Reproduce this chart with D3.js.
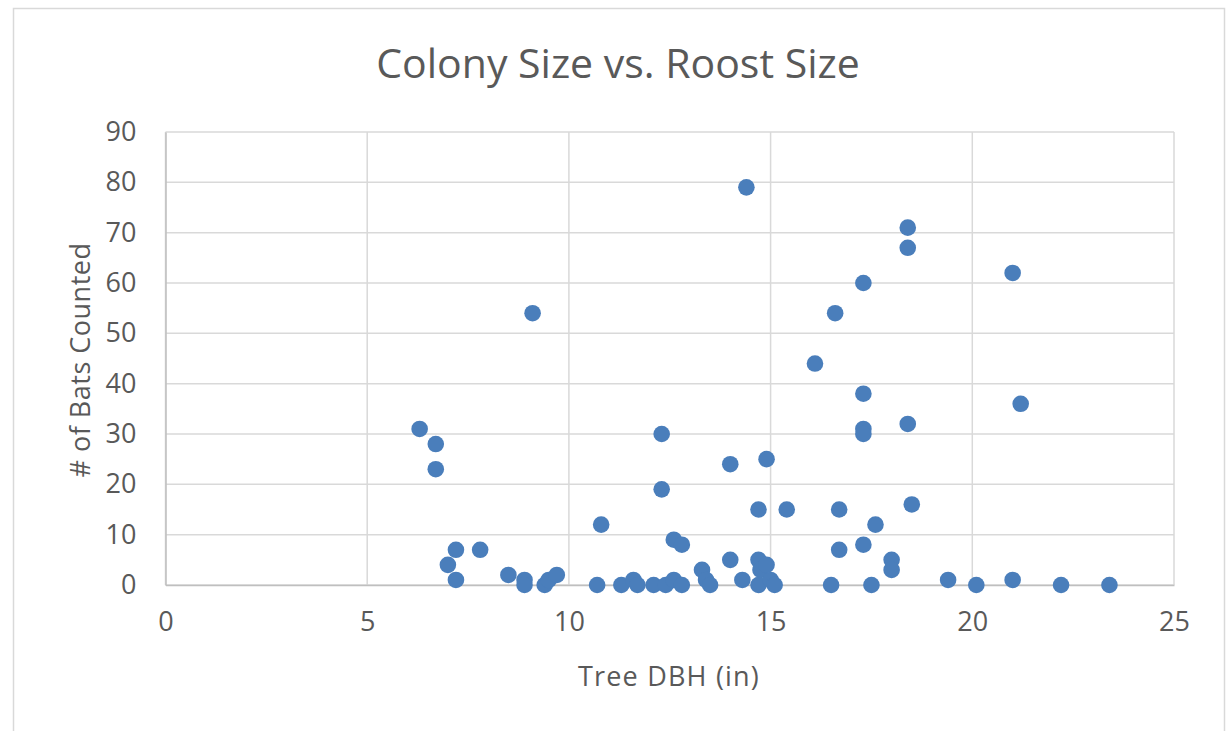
<!DOCTYPE html>
<html><head><meta charset="utf-8">
<script src="https://cdn.jsdelivr.net/npm/d3@7"></script>
<style>body{margin:0;background:#fff}svg{display:block}</style>
</head><body>
<script>
const treeDBH = [6.3,6.7,6.7,7.0,7.2,7.2,7.8,8.5,8.9,8.9,9.1,9.4,9.5,9.7,10.7,10.8,11.3,11.6,11.7,12.1,12.3,12.3,12.4,12.6,12.6,12.8,12.8,13.3,13.4,13.5,14.0,14.0,14.3,14.4,14.7,14.7,14.75,14.7,14.9,14.9,15.0,15.1,15.4,16.1,16.5,16.6,16.7,16.7,17.3,17.3,17.3,17.3,17.3,17.5,17.6,18.0,18.0,18.4,18.4,18.4,18.5,19.4,20.1,21.0,21.0,21.2,22.2,23.4];
const batsCounted = [31,28,23,4,7,1,7,2,1,0,54,0,1,2,0,12,0,1,0,0,30,19,0,9,1,8,0,3,1,0,24,5,1,79,15,5,3,0,25,4,1,0,15,44,0,54,15,7,60,38,31,30,8,0,12,5,3,71,67,32,16,1,0,62,1,36,0,0];
const xTicks = [0,5,10,15,20,25];
const yTicks = [0,10,20,30,40,50,60,70,80,90];
const title = "Colony Size vs. Roost Size";
const xTitle = "Tree DBH (in)";
const yTitle = "# of Bats Counted";

const W = 1227, H = 731;
const svg = d3.select("body").append("svg").attr("width", W).attr("height", H);
svg.append("rect").attr("x",13.5).attr("y",8.5).attr("width",1211).attr("height",760)
  .attr("fill","#fff").attr("stroke","#d9d9d9").attr("stroke-width",1.5);

const L = 165.5, R = 1174, T = 132, B = 585;
const x = d3.scaleLinear().domain([0,25]).range([L,R]);
const y = d3.scaleLinear().domain([0,90]).range([B,T]);
const font = "'Open Sans', 'Segoe UI', sans-serif";
const tc = "#595959";

// gridlines
svg.append("g").selectAll("line").data(yTicks).join("line")
  .attr("x1",L).attr("x2",R).attr("y1",d=>y(d)).attr("y2",d=>y(d))
  .attr("stroke","#d9d9d9").attr("stroke-width",1.5);
svg.append("g").selectAll("line").data(xTicks).join("line")
  .attr("y1",T).attr("y2",B).attr("x1",d=>x(d)).attr("x2",d=>x(d))
  .attr("stroke","#d9d9d9").attr("stroke-width",1.5);

// axes
const xAxis = svg.append("g").attr("transform",`translate(0,${B})`)
  .call(d3.axisBottom(x).tickValues(xTicks).tickSize(0).tickPadding(27));
xAxis.select(".domain").attr("stroke","#bfbfbf").attr("stroke-width",1.5);
xAxis.selectAll("text").attr("font-family",font).attr("font-size",27).attr("fill",tc);

const yAxis = svg.append("g").attr("transform",`translate(${L},0)`)
  .call(d3.axisLeft(y).tickValues(yTicks).tickSize(0).tickPadding(29));
yAxis.select(".domain").attr("stroke","#bfbfbf").attr("stroke-width",1.5);
yAxis.selectAll("text").attr("font-family",font).attr("font-size",27).attr("fill",tc);

// points
svg.append("g").selectAll("circle").data(treeDBH.map((d,i)=>[d,batsCounted[i]])).join("circle")
  .attr("cx",d=>x(d[0])).attr("cy",d=>y(d[1])).attr("r",8.3).attr("fill","#4a7ebb");

// titles
svg.append("text").attr("x",618).attr("y",78).attr("text-anchor","middle")
  .attr("font-family",font).attr("font-size",41).attr("fill",tc).text(title);
svg.append("text").attr("x",669).attr("y",686).attr("text-anchor","middle")
  .attr("font-family",font).attr("font-size",27).attr("letter-spacing",1.2).attr("fill",tc).text(xTitle);
svg.append("text").attr("transform","translate(90,360) rotate(-90)").attr("text-anchor","middle")
  .attr("font-family",font).attr("font-size",27).attr("letter-spacing",0.5).attr("fill",tc).text(yTitle);
</script>
</body></html>
